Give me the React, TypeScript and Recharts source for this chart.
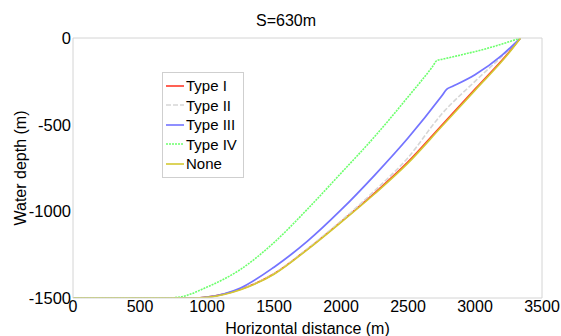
import { Legend, Line, LineChart, XAxis, YAxis } from "recharts"

// horizontal distance (m) / water depth (m) for each profile
const distI = [0, 900, 1000, 1250, 1500, 1750, 2000, 2250, 2500, 2750, 3000, 3250, 3340]
const depthI = [-1500, -1500, -1495, -1450, -1360, -1218, -1060, -895, -715, -505, -295, -85, 0]

const distII = [0, 900, 1000, 1250, 1500, 1750, 2000, 2250, 2500, 2750, 3000, 3250, 3340]
const depthII = [-1500, -1500, -1495, -1450, -1360, -1216, -1056, -882, -690, -440, -250, -70, 0]

const distIII = [0, 900, 1000, 1250, 1500, 1750, 2000, 2250, 2500, 2750, 2790, 2830, 3000, 3200, 3340]
const depthIII = [-1500, -1500, -1495, -1442, -1322, -1172, -992, -792, -577, -336, -295, -280, -212, -100, 0]

const distIV = [0, 700, 800, 1000, 1250, 1500, 1750, 2000, 2250, 2500, 2680, 2716, 2760, 2900, 3100, 3340]
const depthIV = [-1500, -1500, -1494, -1437, -1335, -1180, -987, -780, -570, -340, -168, -130, -122, -97, -58, 0]

const distNone = [0, 900, 1000, 1250, 1500, 1750, 2000, 2250, 2500, 2750, 3000, 3250, 3340]
const depthNone = [-1500, -1500, -1496, -1452, -1363, -1221, -1064, -900, -722, -512, -302, -90, 0]

const xTicks = [0, 500, 1000, 1500, 2000, 2500, 3000, 3500]
const yTicks = [-1500, -1000, -500, 0]

const FONT = "'Liberation Sans', Arial, sans-serif"
const AXIS = "#d4d4d4"

const toRows = (xs: number[], ys: number[]) => xs.map((x, i) => ({ x, y: ys[i] }))

const series = [
    { name: "Type I", data: toRows(distI, depthI), color: "#ff3a2a", dash: undefined, width: 1.6 },
    { name: "Type II", data: toRows(distII, depthII), color: "#d6d6d6", dash: "5 2", width: 1.6 },
    { name: "Type III", data: toRows(distIII, depthIII), color: "#7474ff", dash: undefined, width: 1.8 },
    { name: "Type IV", data: toRows(distIV, depthIV), color: "#6cff6c", dash: "2 1", width: 1.6 },
    { name: "None", data: toRows(distNone, depthNone), color: "#d4c832", dash: undefined, width: 1.6 },
]

// legend keeps the series order (recharts sorts its payload by name)
const LegendBox = () => (
    <div style={{ border: "1px solid #cfcfcf", background: "#fff", padding: "3px 6px 3px 3px", fontFamily: FONT, fontSize: 15 }}>
        {series.map((s) => (
            <div key={s.name} style={{ display: "flex", alignItems: "center", height: 19.5 }}>
                <svg width={18} height={10} style={{ marginRight: 2 }}>
                    <line x1={0} y1={5} x2={18} y2={5} stroke={s.color} strokeWidth={1.6} strokeDasharray={s.dash} />
                </svg>
                <span style={{ color: "#000" }}>{s.name}</span>
            </div>
        ))}
    </div>
)

export default function App() {
    return (
        <div style={{ position: "absolute", left: 0, top: 0, width: 561, height: 336, background: "#fff" }}>
            <div style={{ position: "absolute", left: 0, width: 572, top: 12, textAlign: "center", fontFamily: FONT, fontSize: 16 }}>
                S=630m
            </div>
            <LineChart width={561} height={336} margin={{ top: 38, right: 19, left: 0, bottom: 0 }}>
                <XAxis xAxisId="b" dataKey="x" type="number" domain={[0, 3500]} ticks={xTicks}
                    allowDataOverflow height={38} tickLine={false} tickSize={0} tickMargin={3}
                    axisLine={{ stroke: AXIS }} tick={{ fill: "#000", fontSize: 16, fontFamily: FONT }}
                    label={{ value: "Horizontal distance (m)", position: "insideBottom", offset: 2, fill: "#000", fontSize: 16, fontFamily: FONT }} />
                <XAxis xAxisId="bm" dataKey="x" type="number" domain={[0, 3500]} ticks={xTicks} allowDataOverflow
                    mirror tick={false} tickSize={4} axisLine={false} tickLine={{ stroke: AXIS }} />
                <XAxis xAxisId="t" orientation="top" dataKey="x" type="number" domain={[0, 3500]} ticks={xTicks} allowDataOverflow
                    mirror tick={false} tickSize={4} axisLine={{ stroke: AXIS }} tickLine={{ stroke: AXIS }} />
                <YAxis yAxisId="l" type="number" domain={[-1500, 0]} ticks={yTicks} allowDataOverflow
                    width={73} tickLine={false} tickSize={0} tickMargin={2}
                    axisLine={{ stroke: AXIS }} tick={{ fill: "#000", fontSize: 16.5, fontFamily: FONT }}
                    label={{ value: "Water depth (m)", angle: -90, position: "insideLeft", offset: 20, fill: "#000", fontSize: 16, fontFamily: FONT, style: { textAnchor: "middle" } }} />
                <YAxis yAxisId="lm" type="number" domain={[-1500, 0]} ticks={yTicks} allowDataOverflow
                    mirror tick={false} tickSize={4} axisLine={false} tickLine={{ stroke: AXIS }} />
                <YAxis yAxisId="r" orientation="right" type="number" domain={[-1500, 0]} ticks={yTicks} allowDataOverflow
                    mirror tick={false} tickSize={4} axisLine={{ stroke: AXIS }} tickLine={{ stroke: AXIS }} />
                <Legend layout="vertical" align="center" verticalAlign="middle" content={() => <LegendBox />}
                    wrapperStyle={{ left: 162, top: 72, width: "auto" }} />
                {series.map((s) => (
                    <Line key={s.name} xAxisId="b" yAxisId="l" data={s.data} dataKey="y" name={s.name}
                        type="monotone" stroke={s.color} strokeWidth={s.width} strokeDasharray={s.dash}
                        dot={false} activeDot={false} isAnimationActive={false} />
                ))}
            </LineChart>
        </div>
    )
}
